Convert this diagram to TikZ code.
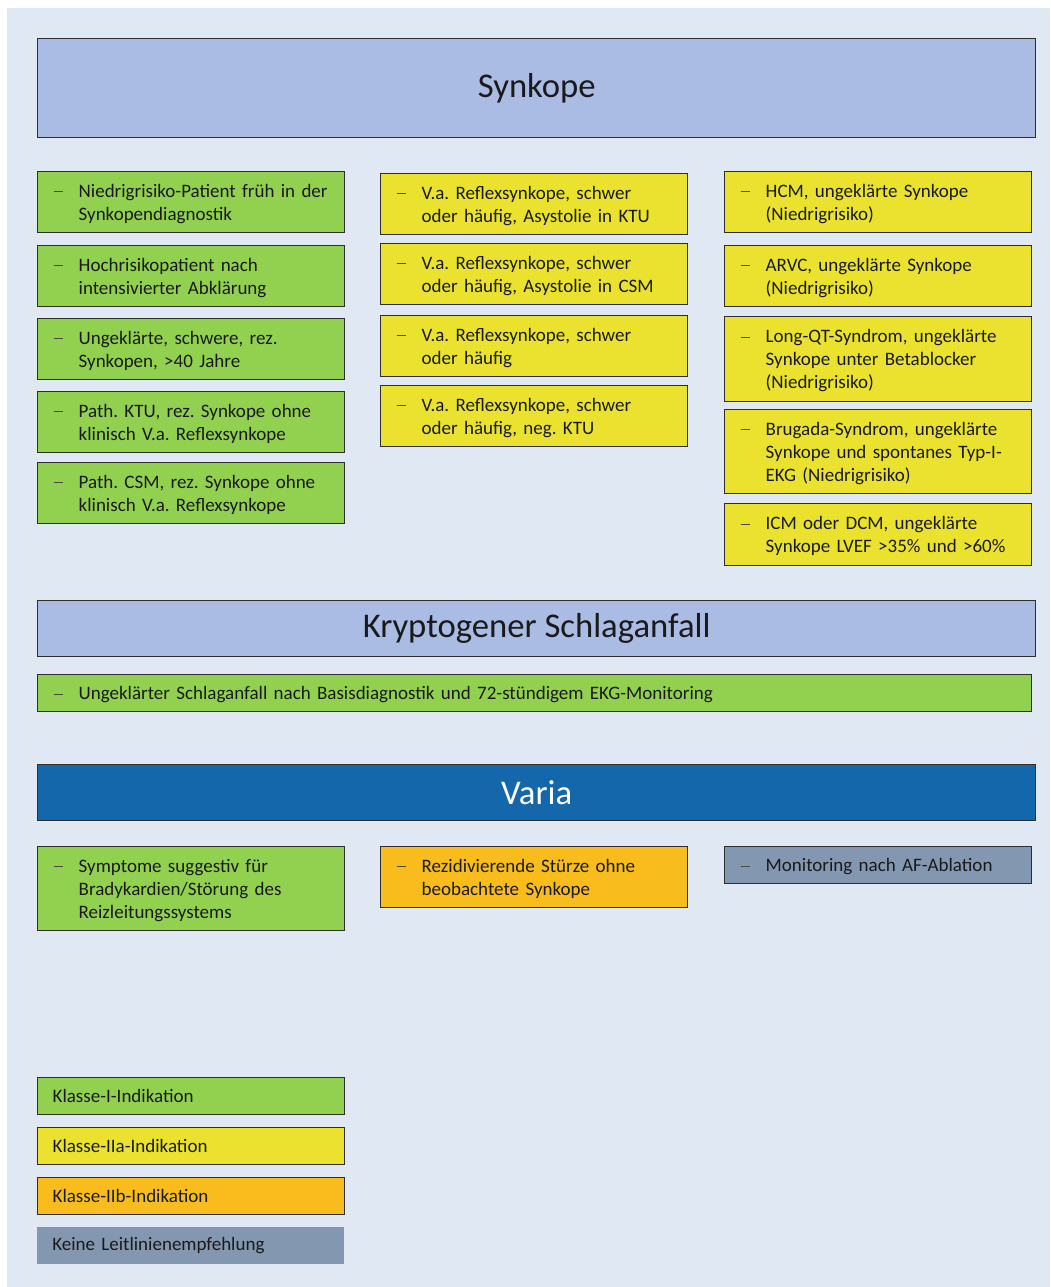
\documentclass[tikz,border=0pt]{standalone}
\usepackage{fontspec}
\setmainfont{Carlito}
\definecolor{bgblue}{HTML}{DFE8F3}
\definecolor{headlight}{HTML}{AABCE4}
\definecolor{headdark}{HTML}{1567AC}
\definecolor{klI}{HTML}{92D050}
\definecolor{klIIa}{HTML}{EBE22F}
\definecolor{klIIb}{HTML}{F8BC1C}
\definecolor{klnone}{HTML}{8497B0}
\definecolor{boxline}{HTML}{2E2E2E}
\definecolor{txt}{HTML}{1A1A1A}
\definecolor{dashc}{HTML}{4A4A3C}
\newdimen\px \px=0.75pt
\newcommand{\bodyfont}{\fontsize{14.25}{17.25}\selectfont\frenchspacing}
\newcommand{\headfont}{\fontsize{26}{30}\selectfont}
\newcommand{\dashtext}[1]{\makebox[25\px][l]{\textcolor{dashc}{\rule[0.26em]{9\px}{1.1\px}}}%
  \begin{tabular}[t]{@{}l@{}}\rule{0pt}{20\px}#1\end{tabular}}
\tikzset{
  headbox/.style={draw=boxline, line width=1pt, anchor=north west, minimum width=998\px,
    inner sep=0pt, font=\headfont, text=txt},
  itembox/.style={draw=boxline, line width=1pt, anchor=north west, inner xsep=16\px,
    inner ysep=0pt, text width=275\px, align=left, font=\bodyfont, text=txt},
  legbox/.style={anchor=north west, inner xsep=15\px, inner ysep=0pt, text width=277\px,
    align=left, minimum height=37\px, font=\bodyfont, text=txt}
}
\begin{document}
\begin{tikzpicture}[x=0.75pt,y=-0.75pt]
\useasboundingbox (0,0) rectangle (1050,1287);
\fill[bgblue] (7,8) rectangle (1050,1287);
% Synkope
\node[headbox, fill=headlight, minimum height=99\px] (headSyn) at (37,38) {Synkope};
\node[itembox, fill=klI, minimum height=61\px] (synA1) at (37,171)
  {\dashtext{Niedrigrisiko-Patient früh in der\\Synkopendiagnostik}};
\node[itembox, fill=klI, minimum height=61\px] (synA2) at (37,245)
  {\dashtext{Hochrisikopatient nach\\intensivierter Abklärung}};
\node[itembox, fill=klI, minimum height=61\px] (synA3) at (37,318)
  {\dashtext{Ungeklärte, schwere, rez.\\Synkopen, >40 Jahre}};
\node[itembox, fill=klI, minimum height=61\px] (synA4) at (37,391)
  {\dashtext{Path. KTU, rez. Synkope ohne\\klinisch V.a. Reflexsynkope}};
\node[itembox, fill=klI, minimum height=61\px] (synA5) at (37,462)
  {\dashtext{Path. CSM, rez. Synkope ohne\\klinisch V.a. Reflexsynkope}};
\node[itembox, fill=klIIa, minimum height=61\px] (synB1) at (380,173)
  {\dashtext{V.a. Reflexsynkope, schwer\\oder häufig, Asystolie in KTU}};
\node[itembox, fill=klIIa, minimum height=61\px] (synB2) at (380,243)
  {\dashtext{V.a. Reflexsynkope, schwer\\oder häufig, Asystolie in CSM}};
\node[itembox, fill=klIIa, minimum height=61\px] (synB3) at (380,315)
  {\dashtext{V.a. Reflexsynkope, schwer\\oder häufig}};
\node[itembox, fill=klIIa, minimum height=61\px] (synB4) at (380,385)
  {\dashtext{V.a. Reflexsynkope, schwer\\oder häufig, neg. KTU}};
\node[itembox, fill=klIIa, minimum height=61\px] (synC1) at (724,171)
  {\dashtext{HCM, ungeklärte Synkope\\(Niedrigrisiko)}};
\node[itembox, fill=klIIa, minimum height=61\px] (synC2) at (724,245)
  {\dashtext{ARVC, ungeklärte Synkope\\(Niedrigrisiko)}};
\node[itembox, fill=klIIa, minimum height=85\px] (synC3) at (724,316)
  {\dashtext{Long-QT-Syndrom, ungeklärte\\Synkope unter Betablocker\\(Niedrigrisiko)}};
\node[itembox, fill=klIIa, minimum height=84\px] (synC4) at (724,409)
  {\dashtext{Brugada-Syndrom, ungeklärte\\Synkope und spontanes Typ-I-\\EKG (Niedrigrisiko)}};
\node[itembox, fill=klIIa, minimum height=62\px] (synC5) at (724,503)
  {\dashtext{ICM oder DCM, ungeklärte\\Synkope LVEF >35\% und >60\%}};
% Kryptogener Schlaganfall
\node[headbox, fill=headlight, minimum height=56\px] (headStroke) at (37,600) {Kryptogener Schlaganfall};
\node[itembox, fill=klI, minimum height=37\px, text width=962\px] (stroke1) at (37,674)
  {\dashtext{Ungeklärter Schlaganfall nach Basisdiagnostik und 72-stündigem EKG-Monitoring}};
% Varia
\node[headbox, fill=headdark, minimum height=56\px, text=white] (headVaria) at (37,764) {Varia};
\node[itembox, fill=klI, minimum height=84\px] (var1) at (37,846)
  {\dashtext{Symptome suggestiv für\\Bradykardien/Störung des\\Reizleitungssystems}};
\node[itembox, fill=klIIb, minimum height=61\px] (var2) at (380,846)
  {\dashtext{Rezidivierende Stürze ohne\\beobachtete Synkope}};
\node[itembox, fill=klnone, minimum height=37\px] (var3) at (724,846)
  {\dashtext{Monitoring nach AF-Ablation}};
% Legende
\node[legbox, draw=boxline, line width=1pt, fill=klI] (leg1) at (37,1077) {Klasse-I-Indikation};
\node[legbox, draw=boxline, line width=1pt, fill=klIIa] (leg2) at (37,1127) {Klasse-IIa-Indikation};
\node[legbox, draw=boxline, line width=1pt, fill=klIIb] (leg3) at (37,1177) {Klasse-IIb-Indikation};
\node[legbox, fill=klnone] (leg4) at (37,1227) {Keine Leitlinienempfehlung};
\end{tikzpicture}
\end{document}
